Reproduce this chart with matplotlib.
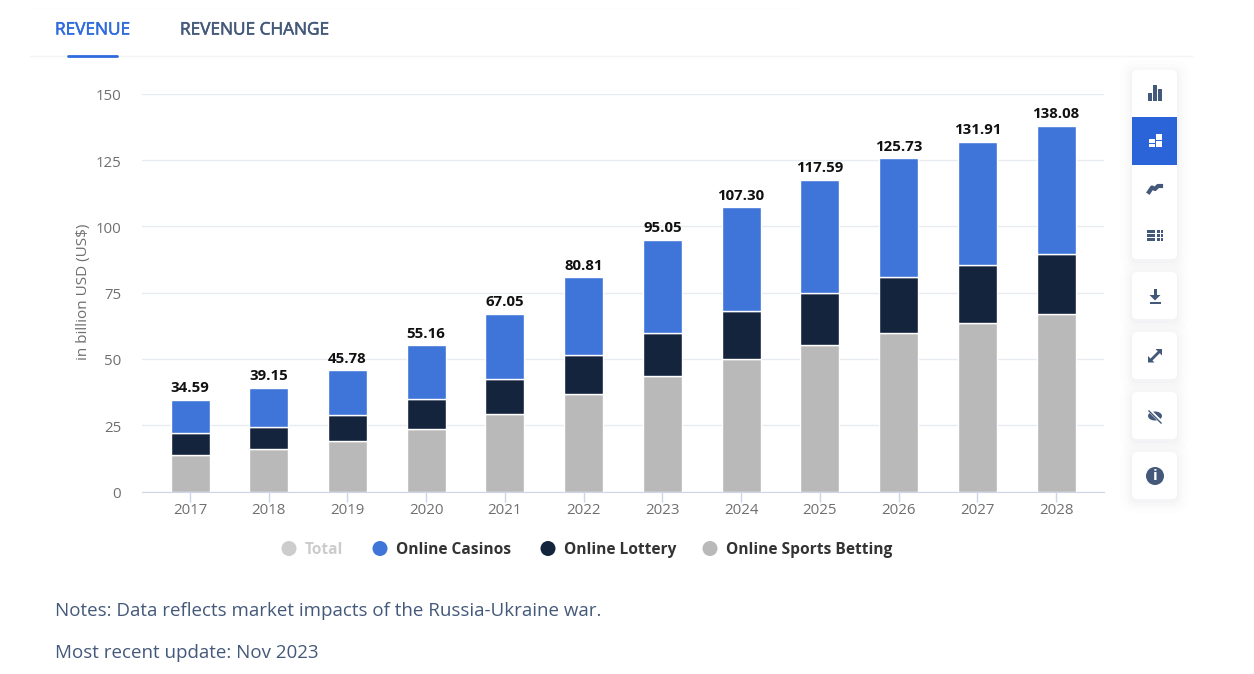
import matplotlib
matplotlib.use('Agg')
import matplotlib.pyplot as plt
import matplotlib.patheffects as pe
from matplotlib.patches import FancyBboxPatch, Rectangle, Circle, Polygon
from matplotlib.transforms import ScaledTranslation
import numpy as np

# values (billion USD)
years = ['2017', '2018', '2019', '2020', '2021', '2022', '2023', '2024', '2025', '2026', '2027', '2028']
totals = [34.59, 39.15, 45.78, 55.16, 67.05, 80.81, 95.05, 107.30, 117.59, 125.73, 131.91, 138.08]
sports_betting = [13.8, 16.0, 19.0, 23.6, 29.2, 36.8, 43.6, 50.0, 55.3, 59.8, 63.4, 67.0]
lottery = [8.2, 8.3, 9.9, 11.3, 13.3, 14.7, 16.2, 18.0, 19.7, 21.0, 22.1, 22.6]
casinos = [12.59, 14.85, 16.88, 20.26, 24.55, 29.31, 35.25, 39.3, 42.59, 44.93, 46.41, 48.48]
y_ticks = [0, 25, 50, 75, 100, 125, 150]

legend_names = ['Total', 'Online Casinos', 'Online Lottery', 'Online Sports Betting']

BLUE = '#3f74d9'
NAVY = '#14243d'
GREY = '#b9b9b9'
SLATE = '#44597a'
W, H = 1254, 674

plt.rcParams['font.family'] = ['Open Sans', 'DejaVu Sans']

fig = plt.figure(figsize=(W / 100, H / 100), dpi=100, facecolor='white')

# overlay in pixel coordinates for the page furniture
page = fig.add_axes([0, 0, 1, 1], zorder=0)
page.set_xlim(0, W)
page.set_ylim(H, 0)
page.axis('off')

# chart axes: x 142..1104 px, y 491.5 (0) .. 94 (150) px
left, right, bottom, top = 142, 1104, 491.5, 94
ax = fig.add_axes([left / W, 1 - bottom / H, (right - left) / W, (bottom - top) / H], zorder=1)
ax.patch.set_alpha(0)

x = np.arange(len(years))
step = (1056 - 190) / 11
ax.set_xlim(-(190 - left) / step, 11 + (right - 1056) / step)
ax.set_ylim(0, 150)

bar_w = 39 / step
s = np.array(sports_betting)
l = np.array(lottery)
c = np.array(casinos)
ax.bar(x, s, bar_w, color=GREY, edgecolor='white', linewidth=1, zorder=3)
ax.bar(x, l, bar_w, bottom=s, color=NAVY, edgecolor='white', linewidth=1, zorder=3)
ax.bar(x, c, bar_w, bottom=s + l, color=BLUE, edgecolor='white', linewidth=1, zorder=3)

for xi, t, top_v in zip(x, totals, s + l + c):
    ax.annotate(f'{t:.2f}', (xi, top_v), xytext=(0, 3.2), textcoords='offset points',
                ha='center', va='bottom', fontsize=10.8, fontweight='bold', color='#111111', zorder=4)

ax.set_yticks(y_ticks)
ax.set_xticks(x)
ax.set_xticklabels(years)
ax.grid(axis='y', color='#e8ebf0', linewidth=1, zorder=0)
ax.set_axisbelow(True)
for name in ['top', 'right', 'left']:
    ax.spines[name].set_visible(False)
ax.spines['bottom'].set_color('#ccd6eb')
ax.tick_params(axis='y', length=0, labelsize=10.8, labelcolor='#6f6f6f', pad=15)
ax.tick_params(axis='x', length=7, width=1, color='#ccd6eb', labelsize=10.8, labelcolor='#6f6f6f', pad=1)
# y tick labels sit about a pixel lower in the reference
for lab in ax.get_yticklabels():
    lab.set_transform(lab.get_transform() + ScaledTranslation(0, -1 / 100, fig.dpi_scale_trans))
ax.set_ylabel('in billion USD (US$)', fontsize=11, color='#6f6f6f', labelpad=0)
ax.yaxis.set_label_coords((91 - left) / (right - left), 0.502)

# tabs
page.plot([30, 1192], [55.5, 55.5], color='#f2f4f8', lw=1)
page.plot([30, 800], [8, 8], color='#fdfdfe', lw=1)
page.text(55, 30.5, 'REVENUE', fontsize=12.4, color='#2f6bdc', va='center',
          path_effects=[pe.withStroke(linewidth=0.4, foreground='#2f6bdc')])
page.text(180, 30.5, 'REVENUE CHANGE', fontsize=12.4, color=SLATE, va='center',
          path_effects=[pe.withStroke(linewidth=0.4, foreground=SLATE)])
page.plot([68, 117], [55.5, 55.5], color='#2f6bdc', lw=2, solid_capstyle='round')

# legend
legend_x = [289, 380, 548, 710]
legend_colors = ['#cccccc', BLUE, NAVY, GREY]
text_colors = ['#cccccc', '#333333', '#333333', '#333333']
for lx, name, col, tc in zip(legend_x, legend_names, legend_colors, text_colors):
    page.add_patch(Circle((lx, 548.5), 7.5, color=col, lw=0))
    page.text(lx + 16, 550, name, fontsize=11.2, fontweight='bold', color=tc, va='center')

# notes
page.text(55, 611, 'Notes: Data reflects market impacts of the Russia-Ukraine war.', fontsize=13.5,
          color=SLATE, va='center')
page.text(55, 653, 'Most recent update: Nov 2023', fontsize=13.5, color=SLATE, va='center')


def card(x0, y0, w, h):
    for grow, alpha in [(12, 0.006), (8, 0.008), (5, 0.012), (2, 0.02)]:
        page.add_patch(FancyBboxPatch((x0 - grow, y0 - grow + 2), w + 2 * grow, h + 2 * grow,
                                      boxstyle='round,pad=0,rounding_size=%d' % (5 + grow),
                                      fc='#3a4a6b', ec='none', alpha=alpha))
    page.add_patch(FancyBboxPatch((x0, y0), w, h, boxstyle='round,pad=0,rounding_size=5', fc='white', ec='none'))


# toolbar
card(1132, 70, 45, 189)
card(1132, 272, 45, 47)
card(1132, 332, 45, 47)
card(1132, 392, 45, 47)
card(1132, 452, 45, 47)
page.add_patch(Rectangle((1132, 117), 45, 47.5, fc='#2b63d9', ec='none'))

# column icon
for bx, by in [(1148, 93), (1153, 85), (1158, 89)]:
    page.add_patch(Rectangle((bx, by), 4, 101 - by, fc=SLATE, ec='none'))
# stacked icon
for bx, by, bw, bh in [(1148.5, 139, 6.5, 3.5), (1148.5, 144, 6.5, 3), (1156, 134, 6, 5.5), (1156, 141, 6, 6)]:
    page.add_patch(Rectangle((bx, by), bw, bh, fc='white', ec='none'))
# line icon
page.plot([1149, 1152, 1155, 1158, 1161], [192, 187.5, 189, 186, 186], color=SLATE, lw=3)
# table icon
for ty in [229.5, 233.5, 237.5]:
    page.add_patch(Rectangle((1147, ty), 8, 3, fc=SLATE, ec='none'))
    page.add_patch(Rectangle((1156.5, ty), 3, 3, fc=SLATE, ec='none'))
    page.add_patch(Rectangle((1160.5, ty), 2.5, 3, fc=SLATE, ec='none'))
# download icon
page.add_patch(Rectangle((1153.5, 289), 3, 7, fc=SLATE, ec='none'))
page.add_patch(Polygon([(1149.5, 295), (1160.5, 295), (1155, 300.5)], fc=SLATE, ec='none'))
page.add_patch(Rectangle((1149.5, 301.5), 11, 2, fc=SLATE, ec='none'))
# expand icon
page.plot([1151, 1159], [360, 352], color=SLATE, lw=2)
page.add_patch(Polygon([(1148, 362.5), (1148, 356), (1154.5, 362.5)], fc=SLATE, ec='none'))
page.add_patch(Polygon([(1162, 349), (1155.5, 349), (1162, 355.5)], fc=SLATE, ec='none'))
# hide icon
theta = np.linspace(0, 2 * np.pi, 40)
page.fill(1155 + 7 * np.cos(theta), 416 + 4.5 * np.sin(theta), color=SLATE, lw=0)
page.plot([1149, 1161], [410, 422], color='white', lw=2.5)
page.plot([1149, 1161], [411, 423], color=SLATE, lw=1)
# info icon
page.add_patch(Circle((1155, 476), 9, fc=SLATE, ec='none'))
page.text(1155, 476, 'i', fontsize=11, fontweight='bold', color='white', ha='center', va='center')

fig.savefig('out.png', dpi=100)
